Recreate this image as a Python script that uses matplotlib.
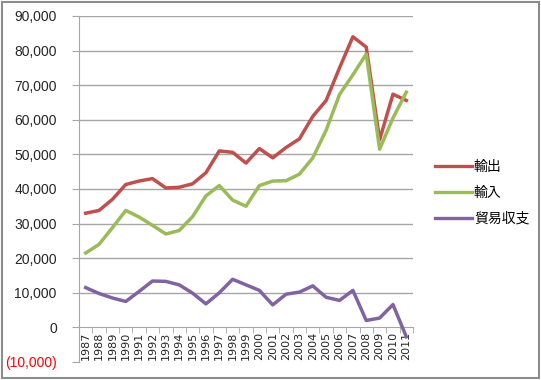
import matplotlib
matplotlib.use("Agg")
import matplotlib.pyplot as plt
from matplotlib.patches import Rectangle
from matplotlib.lines import Line2D
from matplotlib.ticker import FuncFormatter, FixedLocator

plt.rcParams['font.family'] = ['Noto Sans CJK JP', 'DejaVu Sans']

years = [str(y) for y in range(1987, 2012)]
exports = [33000, 33800, 37000, 41300, 42300, 43000, 40300, 40500, 41500, 44700,
           51000, 50600, 47500, 51700, 49000, 52000, 54500, 61000, 65600, 75000,
           84000, 81000, 54200, 67400, 65600]
imports = [21500, 24000, 28800, 33800, 31900, 29500, 27000, 28000, 32000, 38000,
           41000, 36800, 35000, 41000, 42300, 42400, 44300, 49000, 57000, 67300,
           73000, 79000, 51500, 60500, 68000]
balance = [11500, 9800, 8500, 7500, 10400, 13400, 13300, 12300, 9900, 6800,
           10000, 13900, 12300, 10700, 6500, 9600, 10200, 12000, 8700, 7800,
           10700, 2000, 2700, 6600, -2700]
series_names = ['輸出', '輸入', '貿易収支']
colors = ['#C0504D', '#9BBB59', '#8064A2']

W, H = 541, 380
fig = plt.figure(figsize=(W / 100, H / 100), dpi=100)
fig.patch.set_facecolor('white')
fig.add_artist(Rectangle((2 / W, 2 / H), (W - 4) / W, (H - 4) / H, transform=fig.transFigure,
                         fill=False, edgecolor='#8c8c8c', linewidth=1.5))

left, right, top, bottom = 79, 413, 16, 362
ax = fig.add_axes([left / W, 1 - bottom / H, (right - left) / W, (bottom - top) / H])

x = list(range(len(years)))
for vals, c, n in zip([exports, imports, balance], colors, series_names):
    ax.plot(x, vals, color=c, lw=2.5, label=n, solid_joinstyle='round', zorder=3)

ax.set_xlim(-0.5, len(years) - 0.5)
ax.set_ylim(-10000, 90000)

yt = list(range(-10000, 90001, 10000))
ax.set_yticks(yt)
def fmt(v, pos):
    v = int(round(v))
    if v < 0:
        return '({:,})'.format(-v)
    return '{:,}'.format(v)
ax.yaxis.set_major_formatter(FuncFormatter(fmt))
for v in range(10000, 90001, 10000):
    ax.axhline(v, color='#a6a6a6', lw=1.0, zorder=1)
ax.tick_params(axis='y', length=5, color='#a6a6a6', labelsize=10, pad=11, labelcolor='#262626')
for lbl, v in zip(ax.get_yticklabels(), yt):
    lbl.set_fontfamily(['Liberation Sans'])
    if v < 0:
        lbl.set_color('#FF0000')

for s in ['top', 'right']:
    ax.spines[s].set_visible(False)
ax.spines['left'].set_color('#a6a6a6')
ax.spines['bottom'].set_color('#a6a6a6')
ax.spines['bottom'].set_position(('data', 0))
ax.set_xticks(x)
ax.set_xticklabels(years, rotation=90, fontsize=8, fontfamily=['DejaVu Sans'], color='#262626')
ax.tick_params(axis='x', which='major', length=0, pad=3)
ax.xaxis.set_minor_locator(FixedLocator([i - 0.5 for i in range(len(years) + 1)]))
ax.tick_params(axis='x', which='minor', length=4, color='#a6a6a6')
ax.set_facecolor('white')

handles = [Line2D([0], [0], color=c, lw=2.4) for c in colors]
fig.legend(handles, series_names, loc='upper left', bbox_to_anchor=(428 / W, 1 - 153 / H),
           frameon=False, fontsize=10, handlelength=2.7, handletextpad=0.1,
           labelspacing=0.85, borderpad=0)

fig.savefig('out.png', dpi=100)
